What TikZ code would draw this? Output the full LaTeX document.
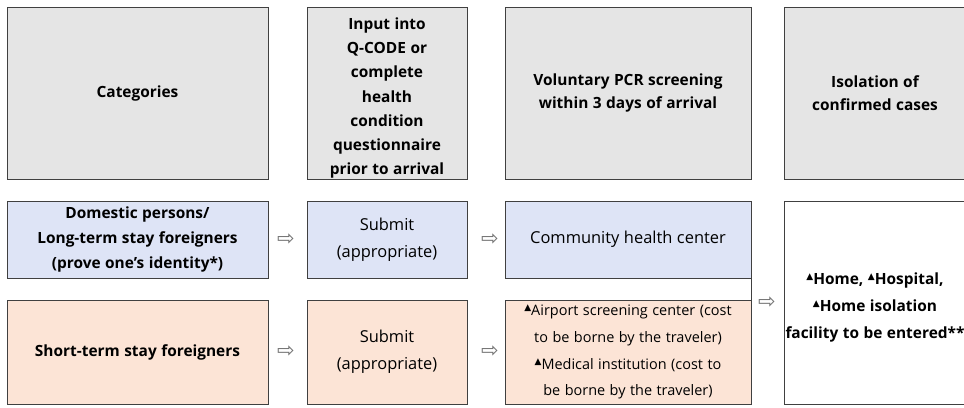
\documentclass[tikz,border=0pt]{standalone}
\usepackage{fontspec}
\setmainfont{Open Sans}[BoldFont={Open Sans Bold}]
\newfontfamily\symfont{DejaVu Sans}
\newcommand\tri{{\symfont\fontsize{9}{9}\selectfont\raisebox{0.55em}{▲}}}
\newcommand\ws{\spaceskip=0.45em plus 0.1em}
\begin{document}
\begin{tikzpicture}[x=1bp,y=-1bp,
  box/.style={draw=black!75, line width=0.8bp, align=center, inner sep=2bp, font=\ws\fontsize{16.5}{23}\selectfont},
  hdr/.style={box, fill=black!10, font=\bfseries\ws\fontsize{15.5}{23}\selectfont},
  blue/.style={box, fill={rgb,255:red,222;green,228;blue,246}},
  orng/.style={box, fill={rgb,255:red,252;green,228;blue,214}},
  txt/.style={align=center, inner sep=0pt},
  arr/.style={font=\symfont\fontsize{21}{21}\selectfont, text=black!55, inner sep=0pt}]
\useasboundingbox (0,0) rectangle (964,407);
\begin{scope}
\clip (0,0) rectangle (964,407);
% headers
\node[hdr, minimum width=261bp, minimum height=172bp] (cat) at (137.5,93) {Categories};
\node[hdr, minimum width=160bp, minimum height=172bp] (inp) at (387,93) {};
\node[txt, font=\bfseries\ws\fontsize{15.5}{24.4}\selectfont] (inptext) at ([yshift=-5bp]inp.center) {Input into\\Q-CODE or\\complete\\health\\condition\\questionnaire\\prior to arrival};
\node[hdr, minimum width=246bp, minimum height=172bp] (vol) at (628,93) {Voluntary PCR screening\\within 3 days of arrival};
\node[hdr, minimum width=182bp, minimum height=172bp] (iso) at (875,93) {Isolation of\\confirmed cases};
% row 2
\node[blue, minimum width=261bp, minimum height=77bp, font=\bfseries\ws\fontsize{15.5}{25}\selectfont] (dom) at (137.5,239.5) {Domestic persons/\\Long-term stay foreigners\\(prove one’s identity*)};
\node[blue, minimum width=160bp, minimum height=77bp, font=\ws\fontsize{16.5}{27}\selectfont] (sub1) at (387,239.5) {Submit\\(appropriate)};
\node[blue, minimum width=246bp, minimum height=77bp] (com) at (628,239.5) {Community health center};
% row 3
\node[orng, minimum width=261bp, minimum height=104bp, font=\bfseries\ws\fontsize{15.5}{23}\selectfont] (sho) at (137.5,352) {Short-term stay foreigners};
\node[orng, minimum width=160bp, minimum height=104bp, font=\ws\fontsize{16.5}{27}\selectfont] (sub2) at (387,352) {Submit\\(appropriate)};
\node[orng, minimum width=246bp, minimum height=104bp, font=\ws\fontsize{14.5}{27}\selectfont] (air) at (628,352) {\tri Airport screening center (cost\\to be borne by the traveler)\\\tri Medical institution (cost to\\be borne by the traveler)};
% isolation box
\node[box, fill=white, minimum width=182bp, minimum height=203bp] (home) at (875,302.5) {};
\node[txt, font=\bfseries\ws\fontsize{15.5}{27}\selectfont] (hometext) at ([yshift=-5bp]home.center) {\tri Home, \tri Hospital,\\\tri Home isolation\\facility to be entered**};
\end{scope}
% connector
\draw[black!75, line width=0.8bp] (com.south east) -- (air.north east);
% arrows
\node[arr] (a1) at (286,240) {⇨};
\node[arr] (a2) at (490,240) {⇨};
\node[arr] (a3) at (286,352) {⇨};
\node[arr] (a4) at (490,352) {⇨};
\node[arr] (a5) at (767,303) {⇨};
\end{tikzpicture}
\end{document}
